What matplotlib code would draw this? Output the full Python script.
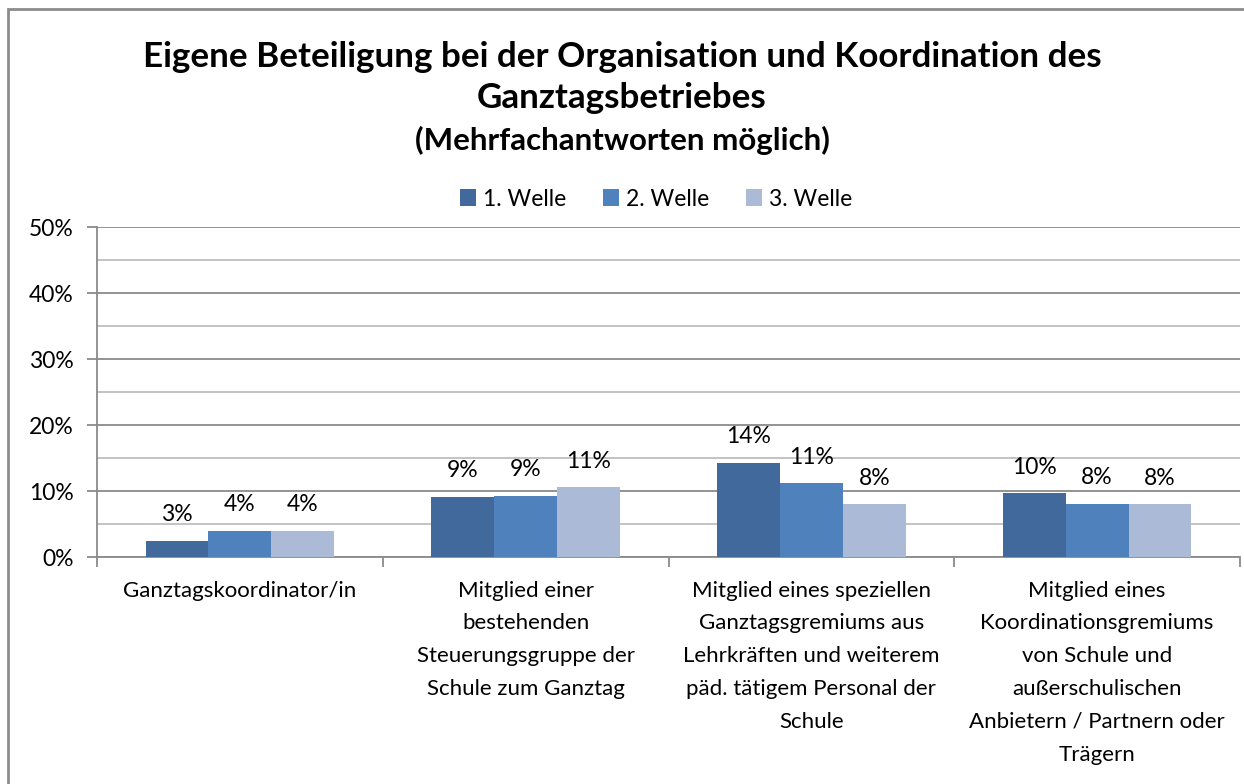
import matplotlib.pyplot as plt
from matplotlib.patches import Rectangle
import numpy as np

plt.rcParams['font.family'] = ['Lato', 'DejaVu Sans']

categories = [
    'Ganztagskoordinator/in',
    'Mitglied einer\nbestehenden\nSteuerungsgruppe der\nSchule zum Ganztag',
    'Mitglied eines speziellen\nGanztagsgremiums aus\nLehrkräften und weiterem\npäd. tätigem Personal der\nSchule',
    'Mitglied eines\nKoordinationsgremiums\nvon Schule und\naußerschulischen\nAnbietern / Partnern oder\nTrägern',
]
series = ['1. Welle', '2. Welle', '3. Welle']
welle1 = [2.5, 9.1, 14.3, 9.7]
welle2 = [4.0, 9.3, 11.2, 8.1]
welle3 = [4.0, 10.6, 8.0, 8.0]
labels1 = ['3%', '9%', '14%', '10%']
labels2 = ['4%', '9%', '11%', '8%']
labels3 = ['4%', '11%', '8%', '8%']
colors = ['#41699C', '#4F81BD', '#AABAD7']

fig = plt.figure(figsize=(12.44, 7.84), dpi=100)
ax = fig.add_axes([97/1244, 1-557/784, (1240-97)/1244, (557-227)/784])

# outer chart border (runs off the right and bottom edge)
fig.patches.append(Rectangle((8/1244, -0.1), 1.2, 1-9/784+0.1, transform=fig.transFigure,
                             fill=False, edgecolor='#8C8C8C', linewidth=2))

x = np.arange(len(categories))
w = 0.22
for i, (vals, labs) in enumerate(zip([welle1, welle2, welle3], [labels1, labels2, labels3])):
    bars = ax.bar(x + (i-1)*w, vals, w, color=colors[i], label=series[i], zorder=3)
    for b, lab in zip(bars, labs):
        ax.annotate(lab, (b.get_x()+b.get_width()/2, b.get_height()),
                    xytext=(0, 14), textcoords='offset points',
                    ha='center', va='baseline', fontsize=16.5)

ax.set_xlim(-0.5, 3.5)
ax.set_ylim(0, 50)
ax.set_yticks(np.arange(0, 51, 10))
ax.set_yticklabels([f'{v}%' for v in range(0, 51, 10)])
ax.set_yticks(np.arange(5, 50, 10), minor=True)
ax.grid(axis='y', which='major', color='#8A8A8A', linewidth=1.3, zorder=0)
ax.grid(axis='y', which='minor', color='#BEBEBE', linewidth=1.3, zorder=0)
ax.tick_params(axis='y', which='major', length=7, width=1.3, color='#8A8A8A',
               labelsize=16.5, pad=10)
ax.tick_params(axis='y', which='minor', length=0)

ax.set_xticks(x)
ax.set_xticklabels(categories, fontsize=16, linespacing=1.8, va='top')
ax.tick_params(axis='x', which='major', length=0, pad=17)
ax.set_xticks(np.arange(-0.5, 3.6, 1), minor=True)
ax.tick_params(axis='x', which='minor', length=7, width=1.3, color='#8A8A8A')

for s in ['top', 'right']:
    ax.spines[s].set_visible(False)
for s in ['left', 'bottom']:
    ax.spines[s].set_color('#8A8A8A')
    ax.spines[s].set_linewidth(1.3)

fig.text(0.5, 1-57/784, 'Eigene Beteiligung bei der Organisation und Koordination des',
         ha='center', va='center', fontsize=25.2, fontweight='bold')
fig.text(0.5, 1-98/784, 'Ganztagsbetriebes',
         ha='center', va='center', fontsize=25.2, fontweight='bold')
fig.text(0.5, 1-140/784, '(Mehrfachantworten möglich)',
         ha='center', va='center', fontsize=22.5, fontweight='bold')

ax.legend(loc='center', bbox_to_anchor=(656/1244, 1-199/784), bbox_transform=fig.transFigure,
          ncol=3, frameon=False, fontsize=16.5, handlelength=0.7, handleheight=0.7,
          handletextpad=0.3, columnspacing=1.6)

fig.savefig('out.png', dpi=100)
